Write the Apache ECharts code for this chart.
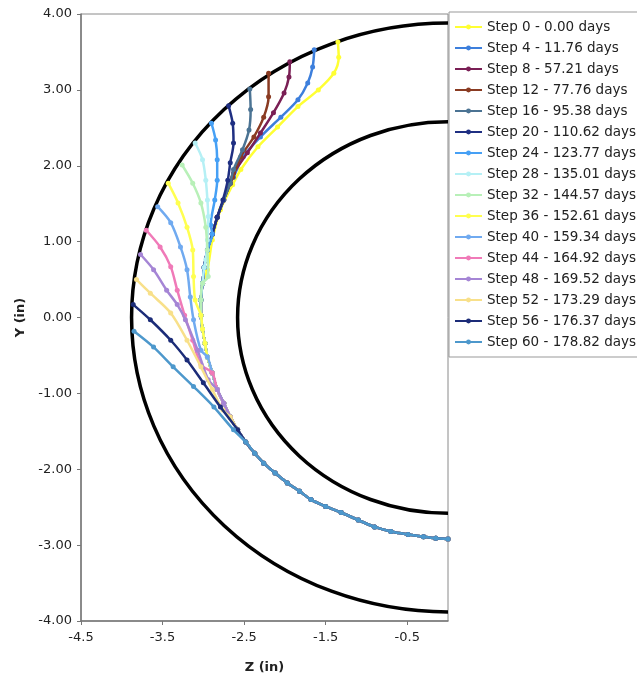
<!DOCTYPE html>
<html>
<head>
<meta charset="utf-8">
<script src="https://cdn.jsdelivr.net/npm/echarts@6/dist/echarts.min.js"></script>
<style>html,body{margin:0;padding:0;background:#fff}#c{width:637px;height:682px}</style>
</head>
<body>
<div id="c"></div>
<script>
// ---- data (Z, Y in inches) ----
const stepNames = ['Step 0 - 0.00 days','Step 4 - 11.76 days','Step 8 - 57.21 days','Step 12 - 77.76 days','Step 16 - 95.38 days','Step 20 - 110.62 days','Step 24 - 123.77 days','Step 28 - 135.01 days','Step 32 - 144.57 days','Step 36 - 152.61 days','Step 40 - 159.34 days','Step 44 - 164.92 days','Step 48 - 169.52 days','Step 52 - 173.29 days','Step 56 - 176.37 days','Step 60 - 178.82 days'];
const stepColors = ['#ffff33','#3d7fdc','#7a1f55','#8a3b22','#4b7393','#1f2f82','#46a0f5','#b5f0f5','#b8f0b8','#ffff50','#70aaf0','#f07ab8','#a585d5','#f8e08a','#1c2c78','#4d98cc'];
const circleRadii = [2.58, 3.88];
const xTicks = [-4.5, -3.5, -2.5, -1.5, -0.5];
const yTicks = [-4, -3, -2, -1, 0, 1, 2, 3, 4];

// shared converged path (lower part of all curves)
const trunk = [[-2.40,2.30],[-2.50,2.13],[-2.59,1.95],[-2.67,1.77],[-2.75,1.55],[-2.83,1.32],[-2.89,1.10],[-2.95,0.89],[-2.99,0.66],[-3.01,0.45],[-3.03,0.23],[-3.03,0.03],[-3.01,-0.15],[-2.98,-0.34],[-2.95,-0.52],[-2.89,-0.73],[-2.83,-0.95],[-2.75,-1.13],[-2.67,-1.31],[-2.58,-1.48],[-2.48,-1.64],[-2.37,-1.79],[-2.26,-1.92],[-2.12,-2.05],[-1.97,-2.18],[-1.82,-2.29],[-1.68,-2.40],[-1.50,-2.49],[-1.31,-2.57],[-1.10,-2.67],[-0.90,-2.76],[-0.70,-2.82],[-0.49,-2.86],[-0.30,-2.89],[-0.15,-2.91],[0.00,-2.92]];

// individual starting branches
const head0  = [[-1.35,3.63],[-1.34,3.43],[-1.40,3.22],[-1.59,3.00],[-1.84,2.78],[-2.09,2.51],[-2.33,2.25],[-2.54,1.95],[-2.64,1.75],[-2.79,1.42],[-2.89,1.02],[-2.95,0.63]];
const head4  = [[-1.64,3.53],[-1.66,3.30],[-1.72,3.09],[-1.84,2.87],[-2.05,2.64],[-2.30,2.38],[-2.51,2.12],[-2.63,1.85]];
const head8  = [[-1.94,3.37],[-1.95,3.17],[-2.01,2.96],[-2.14,2.70],[-2.30,2.43],[-2.46,2.17],[-2.63,1.90]];
const head12 = [[-2.20,3.22],[-2.20,2.91],[-2.26,2.64],[-2.38,2.38],[-2.54,2.12],[-2.64,1.85]];
const head16 = [[-2.43,3.01],[-2.42,2.74],[-2.44,2.47],[-2.52,2.21],[-2.63,1.95]];
const head20 = [[-2.69,2.79],[-2.64,2.56],[-2.63,2.30],[-2.67,2.04],[-2.70,1.81],[-2.76,1.55]];
const head24 = [[-2.90,2.56],[-2.85,2.34],[-2.83,2.08],[-2.83,1.81],[-2.86,1.55],[-2.91,1.22]];
const head28 = [[-3.10,2.30],[-3.01,2.08],[-2.97,1.81],[-2.95,1.55],[-2.94,1.33],[-2.95,1.02],[-2.97,0.76]];
const head32 = [[-3.26,2.01],[-3.13,1.77],[-3.03,1.51],[-2.97,1.19],[-2.95,0.89],[-2.94,0.54]];
const head36 = [[-3.43,1.77],[-3.31,1.51],[-3.20,1.19],[-3.13,0.89],[-3.12,0.54],[-3.10,0.23]];
const head40 = [[-3.56,1.46],[-3.40,1.25],[-3.28,0.93],[-3.20,0.63],[-3.16,0.27],[-3.12,-0.03],[-3.03,-0.43]];
const head44 = [[-3.70,1.15],[-3.53,0.93],[-3.40,0.67],[-3.32,0.36],[-3.23,0.03],[-3.13,-0.30],[-3.03,-0.62]];
const head48 = [[-3.77,0.83],[-3.61,0.63],[-3.45,0.36],[-3.32,0.17],[-3.22,-0.03],[-3.07,-0.43],[-2.94,-0.82]];
const head52 = [[-3.82,0.50],[-3.65,0.32],[-3.40,0.06],[-3.20,-0.30],[-3.03,-0.65],[-2.89,-0.95],[-2.76,-1.22]];
const head56 = [[-3.86,0.17],[-3.65,-0.03],[-3.40,-0.30],[-3.20,-0.56],[-3.00,-0.86],[-2.79,-1.18],[-2.58,-1.48]];
const head60 = [[-3.85,-0.18],[-3.61,-0.39],[-3.37,-0.65],[-3.12,-0.91],[-2.87,-1.18],[-2.63,-1.48]];

const heads = [head0,head4,head8,head12,head16,head20,head24,head28,head32,head36,head40,head44,head48,head52,head56,head60];

function fullPath(head) {
  const lastY = head[head.length - 1][1];
  return head.concat(trunk.filter(p => p[1] < lastY - 0.01));
}

const FONT = 'DejaVu Sans';

const series = [];
series.push({
  type: 'custom',
  name: 'circles',
  silent: true,
  z: 1,
  data: circleRadii.map(r => [0, 0, r]),
  renderItem: function (params, api) {
    const c = api.coord([api.value(0), api.value(1)]);
    const r = api.value(2);
    const rx = Math.abs(api.coord([r, 0])[0] - api.coord([0, 0])[0]);
    const ry = Math.abs(api.coord([0, r])[1] - api.coord([0, 0])[1]);
    const d = 'M ' + c[0] + ' ' + (c[1] - ry) + ' A ' + rx + ' ' + ry + ' 0 0 0 ' + c[0] + ' ' + (c[1] + ry);
    return {
      type: 'path',
      shape: { pathData: d },
      style: { fill: 'none', stroke: '#000', lineWidth: 3.5 }
    };
  }
});

heads.forEach((h, i) => {
  series.push({
    type: 'line',
    name: stepNames[i],
    data: fullPath(h),
    smooth: 0.3,
    symbol: 'circle',
    symbolSize: 5,
    showSymbol: true,
    z: 2 + i,
    color: stepColors[i],
    lineStyle: { width: 2.5, color: stepColors[i] },
    itemStyle: { color: stepColors[i] },
    emphasis: { disabled: true }
  });
});

const chart = echarts.init(document.getElementById('c'), null, { renderer: 'canvas' });
chart.setOption({
  animation: false,
  backgroundColor: '#fff',
  grid: { left: 81, right: 189, top: 14, bottom: 61, show: true, borderColor: '#8a8a8a', borderWidth: 1 },
  xAxis: {
    type: 'value', min: -4.5, max: 0, interval: 1,
    name: 'Z (in)', nameLocation: 'middle', nameGap: 40,
    nameTextStyle: { fontFamily: FONT, fontWeight: 'bold', fontSize: 13, color: '#222' },
    axisLine: { show: true, onZero: false, lineStyle: { color: '#777', width: 1.5 } },
    axisTick: { show: true, length: 4, lineStyle: { color: '#777' } },
    axisLabel: { fontFamily: FONT, fontSize: 13, color: '#222', margin: 10, showMaxLabel: false,
      formatter: v => (xTicks.indexOf(Math.round(v * 10) / 10) >= 0 ? v.toFixed(1) : '') },
    splitLine: { show: false }
  },
  yAxis: {
    type: 'value', min: -4, max: 4, interval: 1,
    name: 'Y (in)', nameLocation: 'middle', nameGap: 54,
    nameTextStyle: { fontFamily: FONT, fontWeight: 'bold', fontSize: 13, color: '#222' },
    axisLine: { show: true, onZero: false, lineStyle: { color: '#777', width: 1.5 } },
    axisTick: { show: true, length: 4, lineStyle: { color: '#777' } },
    axisLabel: { fontFamily: FONT, fontSize: 13, color: '#222', margin: 9,
      formatter: v => (yTicks.indexOf(v) >= 0 ? v.toFixed(2) : '') },
    splitLine: { show: false }
  },
  legend: {
    orient: 'vertical',
    left: 449, top: 12,
    data: stepNames,
    itemWidth: 27, itemHeight: 6, itemGap: 7,
    padding: [8, 12, 8, 5],
    borderColor: '#999', borderWidth: 1,
    textStyle: { fontFamily: FONT, fontSize: 13.5, color: '#222' },
    selectedMode: false
  },
  series: series
});
</script>
</body>
</html>
